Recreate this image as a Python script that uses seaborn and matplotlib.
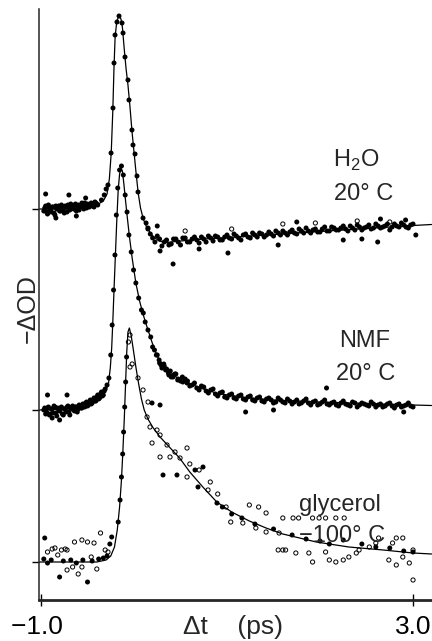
import matplotlib
matplotlib.use("Agg")
import matplotlib.pyplot as plt
import numpy as np
import pandas as pd
import seaborn as sns

# ---------------- data (t in ps, signal relative to each trace baseline) ----------------
offsets = {"H2O": 3.53, "NMF": 1.52, "glycerol": 0.0}

h2o_fit_t = [-1.02, -0.70, -0.50, -0.40, -0.33, -0.29, -0.265, -0.245, -0.228, -0.215, -0.203, -0.185,
             -0.162, -0.14, -0.125, -0.105, -0.085, -0.065, -0.045, -0.022, 0.0, 0.02, 0.045, 0.07, 0.10,
             0.14, 0.20, 0.27, 0.35, 0.50, 0.75, 1.00, 1.50, 2.00, 2.50, 3.00, 3.20]
h2o_fit_s = [0.00, 0.00, 0.02, 0.04, 0.08, 0.15, 0.30, 0.56, 0.98, 1.42, 1.72, 1.88,
             1.93, 1.90, 1.82, 1.60, 1.40, 1.24, 1.04, 0.78, 0.57, 0.38, 0.16, 0.01, -0.10,
             -0.19, -0.27, -0.32, -0.335, -0.32, -0.30, -0.285, -0.255, -0.225, -0.195, -0.165, -0.155]

h2o_pts_t = [-0.97, -0.95, -0.93, -0.91, -0.89, -0.87, -0.85, -0.83, -0.81, -0.79, -0.77, -0.75, -0.73,
             -0.71, -0.69, -0.67, -0.65, -0.63, -0.61, -0.59, -0.57, -0.55, -0.53, -0.51, -0.49, -0.47,
             -0.45, -0.43, -0.41, -0.39,
             -0.96, -0.94, -0.92, -0.90, -0.88, -0.86, -0.84, -0.82, -0.80, -0.78, -0.76, -0.74, -0.72,
             -0.70, -0.68, -0.66, -0.64, -0.62, -0.60, -0.58, -0.56, -0.54, -0.52, -0.50, -0.48, -0.46,
             -0.44, -0.42, -0.40,
             -0.95, -0.70, -0.84, -0.62, -0.52,
             -0.35, -0.32, -0.30, -0.28, -0.247, -0.226, -0.215, -0.204, -0.183, -0.161, -0.129, -0.118,
             -0.097, -0.065, -0.054, -0.022, -0.011, 0.011, 0.032, 0.043, 0.097, 0.13, 0.15,
             0.15, 0.20, 0.25, 0.30, 0.35, 0.40, 0.45, 0.50, 0.55, 0.60, 0.65, 0.70, 0.75, 0.80, 0.85,
             0.90, 0.95, 1.00, 1.05, 1.10, 1.15, 1.20, 1.25, 1.30, 1.35, 1.40, 1.45, 1.50, 1.55, 1.60,
             1.65, 1.70, 1.75, 1.80, 1.85, 1.90, 1.95, 2.00, 2.05, 2.10, 2.15, 2.20, 2.25, 2.30, 2.35,
             2.40, 2.45, 2.50, 2.55, 2.60, 2.65, 2.70, 2.75, 2.80, 2.85, 2.90, 2.95, 3.00,
             0.175, 0.225, 0.275, 0.325, 0.375, 0.425, 0.475, 0.525, 0.575, 0.625, 0.675, 0.725, 0.775,
             0.825, 0.875, 0.925, 0.975, 1.025, 1.075, 1.125, 1.175, 1.225, 1.275, 1.325, 1.375, 1.425,
             1.475, 1.525, 1.575, 1.625, 1.675, 1.725, 1.775, 1.825, 1.875, 1.925, 1.975, 2.025, 2.075,
             2.125, 2.175, 2.225, 2.275, 2.325, 2.375, 2.425, 2.475, 2.525, 2.575, 2.625, 2.675, 2.725,
             2.775, 2.825, 2.875, 2.925, 2.975,
             0.42, 1.01, 0.70, 1.55, 2.25, 2.45, 2.62, 1.75, 2.65, 2.92, 0.25, 0.28, 3.03]
h2o_pts_s = [-0.02, 0.03, -0.05, 0.01, -0.03, 0.02, -0.06, 0.00, 0.03, -0.02, 0.01, -0.04, 0.02,
             0.04, -0.01, 0.03, 0.00, 0.05, 0.02, -0.01, 0.04, 0.02, 0.06, 0.01, 0.04, 0.03,
             0.05, 0.02, 0.06, 0.04,
             0.01, -0.03, 0.04, -0.01, 0.02, -0.04, 0.03, 0.01, -0.02, 0.04, 0.00, 0.03, -0.03,
             0.02, 0.05, 0.01, 0.03, -0.02, 0.04, 0.02, 0.06, 0.00, 0.03, 0.05, 0.02, 0.06,
             0.03, 0.07, 0.05,
             0.15, 0.14, -0.09, -0.07, 0.11,
             0.09, 0.14, 0.20, 0.24, 0.56, 1.01, 1.46, 1.74, 1.87, 1.93, 1.86, 1.76,
             1.52, 1.29, 1.09, 0.79, 0.64, 0.55, 0.33, 0.17, -0.09, -0.14, -0.20,
             -0.19, -0.29, -0.27, -0.37, -0.31, -0.35, -0.30, -0.36, -0.29, -0.33, -0.28, -0.34, -0.30, -0.27, -0.32,
             -0.28, -0.31, -0.26, -0.30, -0.27, -0.31, -0.25, -0.29, -0.26, -0.24, -0.28, -0.23, -0.27, -0.24, -0.22,
             -0.26, -0.21, -0.25, -0.22, -0.19, -0.24, -0.20, -0.23, -0.18, -0.22, -0.19, -0.21, -0.17, -0.22, -0.19,
             -0.16, -0.21, -0.18, -0.20, -0.15, -0.19, -0.17, -0.21, -0.15, -0.18, -0.16, -0.19, -0.15,
             -0.25, -0.33, -0.30, -0.33, -0.36, -0.30, -0.33, -0.29, -0.33, -0.30, -0.31, -0.28, -0.33,
             -0.29, -0.27, -0.31, -0.28, -0.29, -0.25, -0.29, -0.26, -0.28, -0.24, -0.28, -0.25, -0.26,
             -0.25, -0.22, -0.26, -0.24, -0.23, -0.24, -0.20, -0.24, -0.22, -0.21, -0.23, -0.20, -0.22,
             -0.18, -0.21, -0.19, -0.20, -0.17, -0.21, -0.18, -0.19, -0.16, -0.19, -0.17, -0.18, -0.15,
             -0.18, -0.17, -0.14, -0.18, -0.16,
             -0.55, -0.44, -0.40, -0.36, -0.31, -0.30, -0.33, -0.13, -0.10, -0.11, -0.17, -0.42, -0.26]
h2o_open_t = [0.55, 1.05, 1.60, 1.95, 2.40, 2.75]
h2o_open_s = [-0.22, -0.20, -0.15, -0.14, -0.12, -0.13]

nmf_fit_t = [-1.02, -0.70, -0.55, -0.45, -0.37, -0.31, -0.275, -0.255, -0.24, -0.228, -0.215, -0.20, -0.185,
             -0.17, -0.155, -0.14, -0.125, -0.11, -0.095, -0.075, -0.05, -0.02, 0.02, 0.06, 0.10, 0.14, 0.20,
             0.25, 0.31, 0.40, 0.49, 0.60, 0.70, 0.90, 1.20, 1.50, 2.00, 2.50, 3.00, 3.20]
nmf_fit_s = [0.00, 0.01, 0.04, 0.08, 0.13, 0.19, 0.26, 0.42, 0.62, 0.88, 1.20, 1.55, 1.90,
             2.20, 2.36, 2.42, 2.39, 2.27, 2.13, 1.95, 1.74, 1.52, 1.27, 1.09, 0.95, 0.83, 0.66,
             0.54, 0.44, 0.36, 0.31, 0.265, 0.225, 0.165, 0.125, 0.10, 0.08, 0.065, 0.05, 0.045]

nmf_pts_t = [-0.97, -0.95, -0.93, -0.91, -0.89, -0.87, -0.85, -0.83, -0.81, -0.79, -0.77, -0.75, -0.73,
             -0.71, -0.69, -0.67, -0.65, -0.63, -0.61, -0.59, -0.57, -0.55, -0.53, -0.51, -0.49, -0.47,
             -0.45, -0.43, -0.41, -0.39, -0.37, -0.35, -0.33, -0.31,
             -0.96, -0.94, -0.92, -0.90, -0.88, -0.86, -0.84, -0.82, -0.80, -0.78, -0.76, -0.74, -0.72,
             -0.70, -0.68, -0.66, -0.64, -0.62, -0.60, -0.58, -0.56, -0.54, -0.52, -0.50, -0.48, -0.46,
             -0.44, -0.42, -0.40, -0.38, -0.36, -0.34, -0.32,
             -0.93, -0.72, -0.80, -0.88,
             -0.29, -0.27, -0.25, -0.235, -0.22, -0.205, -0.19, -0.175, -0.155, -0.135, -0.115, -0.095,
             -0.075, -0.055, -0.03, -0.005, 0.02, 0.05, 0.08,
             0.10, 0.12, 0.15, 0.18, 0.20, 0.22, 0.24, 0.27, 0.29, 0.32, 0.34, 0.37, 0.39, 0.42, 0.44,
             0.47, 0.52, 0.57,
             0.25, 0.30, 0.35, 0.40, 0.45, 0.50, 0.55, 0.60, 0.65, 0.70, 0.75, 0.80, 0.85, 0.90, 0.95,
             1.00, 1.05, 1.10, 1.15, 1.20, 1.25, 1.30, 1.35, 1.40, 1.45, 1.50, 1.55, 1.60, 1.65, 1.70,
             1.75, 1.80, 1.85, 1.90, 1.95, 2.00, 2.05, 2.10, 2.15, 2.20, 2.25, 2.30, 2.35, 2.40, 2.45,
             2.50, 2.55, 2.60, 2.65, 2.70, 2.75, 2.80, 2.85, 2.90, 2.95, 3.00,
             0.275, 0.325, 0.375, 0.425, 0.475, 0.525, 0.575, 0.625, 0.675, 0.725, 0.775, 0.825, 0.875,
             0.925, 0.975, 1.025, 1.075, 1.125, 1.175, 1.225, 1.275, 1.325, 1.375, 1.425, 1.475, 1.525,
             1.575, 1.625, 1.675, 1.725, 1.775, 1.825, 1.875, 1.925, 1.975, 2.025, 2.075, 2.125, 2.175,
             2.225, 2.275, 2.325, 2.375, 2.425, 2.475, 2.525, 2.575, 2.625, 2.675, 2.725, 2.775, 2.825,
             2.875, 2.925, 2.975,
             2.07, 1.20, 1.50, 2.90]
nmf_pts_s = [0.00, -0.04, 0.02, -0.05, 0.01, -0.03, 0.03, -0.06, 0.00, 0.02, -0.04, 0.01, -0.02,
             0.04, -0.05, 0.02, 0.00, 0.03, -0.02, 0.05, 0.02, 0.06, 0.03, 0.08, 0.05, 0.10,
             0.07, 0.12, 0.09, 0.15, 0.12, 0.18, 0.15, 0.21,
             0.02, -0.02, 0.03, -0.04, 0.01, 0.04, -0.03, 0.02, -0.01, 0.03, -0.05, 0.01, 0.03,
             -0.02, 0.02, 0.04, -0.01, 0.03, 0.01, 0.04, 0.02, 0.05, 0.07, 0.04, 0.08, 0.06,
             0.10, 0.09, 0.13, 0.11, 0.16, 0.14, 0.19,
             0.15, 0.15, -0.10, -0.08,
             0.25, 0.32, 0.55, 0.85, 1.20, 1.55, 1.95, 2.22, 2.40, 2.44, 2.35, 2.15,
             1.98, 1.75, 1.58, 1.40, 1.27, 1.12, 1.00,
             0.97, 0.88, 0.80, 0.73, 0.63, 0.60, 0.55, 0.50, 0.45, 0.46, 0.40, 0.37, 0.39, 0.33, 0.36,
             0.30, 0.33, 0.27,
             0.55, 0.42, 0.41, 0.33, 0.36, 0.29, 0.31, 0.24, 0.27, 0.20, 0.23, 0.17, 0.21, 0.14, 0.18,
             0.12, 0.16, 0.11, 0.15, 0.10, 0.14, 0.09, 0.13, 0.08, 0.12, 0.07, 0.12, 0.08, 0.11, 0.06,
             0.10, 0.07, 0.11, 0.05, 0.09, 0.06, 0.10, 0.05, 0.08, 0.04, 0.09, 0.05, 0.08, 0.03, 0.07,
             0.05, 0.08, 0.03, 0.06, 0.04, 0.07, 0.02, 0.06, 0.04, 0.07, 0.03,
             0.47, 0.44, 0.35, 0.35, 0.31, 0.28, 0.29, 0.25, 0.22, 0.24, 0.19, 0.20, 0.16,
             0.17, 0.13, 0.15, 0.12, 0.14, 0.11, 0.13, 0.10, 0.12, 0.09, 0.11, 0.10, 0.08,
             0.10, 0.07, 0.09, 0.08, 0.06, 0.09, 0.07, 0.08, 0.05, 0.08, 0.06, 0.07, 0.05,
             0.07, 0.06, 0.04, 0.07, 0.05, 0.06, 0.04, 0.06, 0.05, 0.03, 0.06, 0.04, 0.05,
             0.03, 0.05, 0.04,
             0.22, -0.02, 0.00, -0.02]

gly_fit_t = [-1.02, -0.40, -0.30, -0.25, -0.21, -0.18, -0.155, -0.135, -0.12, -0.105, -0.09, -0.078, -0.065,
             -0.05, -0.03, -0.01, 0.02, 0.05, 0.08, 0.11, 0.15, 0.20, 0.28, 0.35, 0.49, 0.60, 0.74, 0.89,
             1.05, 1.24, 1.42, 1.60, 1.96, 2.31, 2.68, 3.00, 3.20]
gly_fit_s = [0.00, 0.00, 0.02, 0.06, 0.15, 0.32, 0.55, 0.82, 1.10, 1.42, 1.80, 2.10, 2.30,
             2.34, 2.26, 2.14, 1.95, 1.78, 1.63, 1.52, 1.43, 1.35, 1.25, 1.18, 1.04, 0.90, 0.75, 0.60,
             0.50, 0.41, 0.34, 0.28, 0.20, 0.15, 0.12, 0.09, 0.08]

gly_pts_t = [-0.96, -0.97, -0.93, -0.89, -0.80, -0.76, -0.68, -0.62, -0.55, -0.50, -0.45, -0.38, -0.33,
             -0.29, -0.26, -0.24,
             -0.17, -0.15, -0.135, -0.122, -0.112, -0.10, -0.09, -0.08,
             0.194, 0.28, 0.312, 0.462, 0.656, 0.742, 0.688, 0.892, 0.95, 1.05, 1.16, 1.30, 1.50, 1.70,
             1.85, 2.00, 2.10, 2.25, 2.45, 2.60, 2.75, 2.90, 3.00]
gly_pts_s = [0.24, 0.03, -0.01, 0.02, -0.15, 0.01, 0.02, -0.01, 0.02, -0.20, 0.01, 0.03, 0.04,
             0.06, 0.18, 0.25,
             0.40, 0.62, 0.85, 1.08, 1.30, 1.55, 1.80, 2.05,
             1.59, 1.57, 0.87, 0.87, 0.92, 0.95, 0.75, 0.59, 0.55, 0.48, 0.44, 0.38, 0.33, 0.27,
             0.23, 0.21, 0.18, 0.22, 0.18, 0.15, 0.14, 0.11, 0.10]

gly_open_t = [-0.93, -0.88, -0.85, -0.82, -0.78, -0.74, -0.72, -0.72, -0.66, -0.64, -0.60, -0.56, -0.56,
              -0.50, -0.46, -0.43, -0.40, -0.36, -0.31, -0.28,
              -0.043, -0.06, -0.043, -0.02, 0.043, 0.097, 0.151, 0.14, 0.172, 0.247, 0.28, 0.194, 0.355,
              0.441, 0.57, 0.387, 0.28, 0.495, 0.57, 0.796, 0.60, 0.70, 0.82, 0.90,
              0.99, 1.04, 1.17, 1.24, 1.31, 1.34, 1.42, 1.42, 1.56, 1.60, 1.55, 1.60, 1.63, 1.71, 1.74,
              1.77, 1.88, 1.92, 1.92, 1.99, 2.06, 2.06, 2.10, 2.17, 2.17, 2.25, 2.26, 2.31, 2.39, 2.42,
              2.53, 2.60, 2.63, 2.74, 2.78, 2.82, 2.82, 2.89, 2.89, 2.96, 3.00, 3.00]
gly_open_s = [0.10, 0.13, 0.14, 0.07, 0.12, 0.13, 0.12, -0.08, -0.05, 0.20, -0.12, 0.22, -0.05,
              0.20, 0.05, 0.19, -0.07, 0.29, 0.12, 0.10,
              2.27, 2.20, 1.95, 1.98, 1.84, 1.72, 1.60, 1.45, 1.35, 1.32, 1.27, 1.19, 1.17,
              1.10, 1.14, 1.05, 1.05, 1.04, 0.85, 0.72, 0.98, 0.92, 0.80, 0.68,
              0.55, 0.40, 0.39, 0.57, 0.34, 0.55, 0.49, 0.30, 0.29, 0.44, 0.12, 0.12, 0.12, 0.44, 0.09,
              0.44, 0.09, 0.44, 0.00, 0.44, 0.44, 0.10, 0.02, 0.44, 0.00, 0.02, 0.44, 0.05, 0.09, 0.12,
              0.15, 0.19, 0.24, 0.02, 0.19, -0.03, 0.24, 0.24, 0.05, -0.01, 0.12, -0.18]

labels = {"H2O": ("H$_2$O", "20° C"), "NMF": ("NMF", "20° C"), "glycerol": ("glycerol", "\u2212100° C")}
xtick_vals = [-1.0, 3.0]
xtick_labels = ["\u22121.0 ", "3.0"]

# ---------------- plotting ----------------
sns.set_style("ticks")
plt.rcParams["font.family"] = ["Liberation Sans", "DejaVu Sans"]
plt.rcParams["mathtext.fontset"] = "custom"
plt.rcParams["mathtext.rm"] = "Liberation Sans"

W, H = 432, 641
fig = plt.figure(figsize=(W / 100, H / 100), dpi=100)
ax = fig.add_axes([39 / W, 41 / H, (W - 39) / W, (600 - 9) / H])

def frame(t, s, name):
    return pd.DataFrame({"t": t, "y": np.asarray(s) + offsets[name]})

fits = {"H2O": (h2o_fit_t, h2o_fit_s), "NMF": (nmf_fit_t, nmf_fit_s), "glycerol": (gly_fit_t, gly_fit_s)}
pts = {"H2O": (h2o_pts_t, h2o_pts_s), "NMF": (nmf_pts_t, nmf_pts_s), "glycerol": (gly_pts_t, gly_pts_s)}
opens = {"H2O": (h2o_open_t, h2o_open_s), "glycerol": (gly_open_t, gly_open_s)}

for name in offsets:
    d = frame(*fits[name], name)
    sns.lineplot(data=d, x="t", y="y", ax=ax, color="black", lw=0.9, sort=False, estimator=None)
    p = frame(*pts[name], name)
    sns.scatterplot(data=p, x="t", y="y", ax=ax, color="black", s=13, edgecolor="none", zorder=3)
    if name in opens:
        o = frame(*opens[name], name)
        ax.scatter(o["t"], o["y"], s=9, facecolors="none", edgecolors="black", linewidths=0.7, zorder=3)

ax.set_xlim(-1.0215, 3.204)
ax.set_ylim(-0.38, 5.53)
ax.set_xticks(xtick_vals)
ax.set_xticklabels(xtick_labels, fontsize=19)
ax.set_yticks(list(offsets.values()))
ax.set_yticklabels([])
ax.tick_params(axis="x", direction="inout", length=9, width=1.0, pad=6, colors="black")
ax.tick_params(axis="y", direction="out", length=5, width=1.0, colors="black")
for side in ["top", "right"]:
    ax.spines[side].set_visible(False)
ax.spines["left"].set_linewidth(1.1)
ax.spines["bottom"].set_linewidth(2.0)
ax.set_xlabel("")
ax.set_ylabel("")

def ftxt(x, y, s, **kw):
    fig.text(x / W, 1 - y / H, s, **kw)

fs = 17
ftxt(333, 167, labels["H2O"][0], fontsize=fs, ha="left", va="baseline")
ftxt(334, 200, labels["H2O"][1], fontsize=fs, ha="left", va="baseline")
ftxt(339, 347, labels["NMF"][0], fontsize=fs, ha="left", va="baseline")
ftxt(336, 380, labels["NMF"][1], fontsize=fs, ha="left", va="baseline")
ftxt(299, 511, labels["glycerol"][0], fontsize=fs, ha="left", va="baseline")
ftxt(299, 542, labels["glycerol"][1], fontsize=fs, ha="left", va="baseline")
ftxt(233, 634, "\u0394t    (ps)", fontsize=19, ha="center", va="baseline")
ftxt(28, 309, "\u2212\u0394OD", fontsize=18, ha="center", va="center", rotation=90)

fig.savefig("out.png", dpi=100)
